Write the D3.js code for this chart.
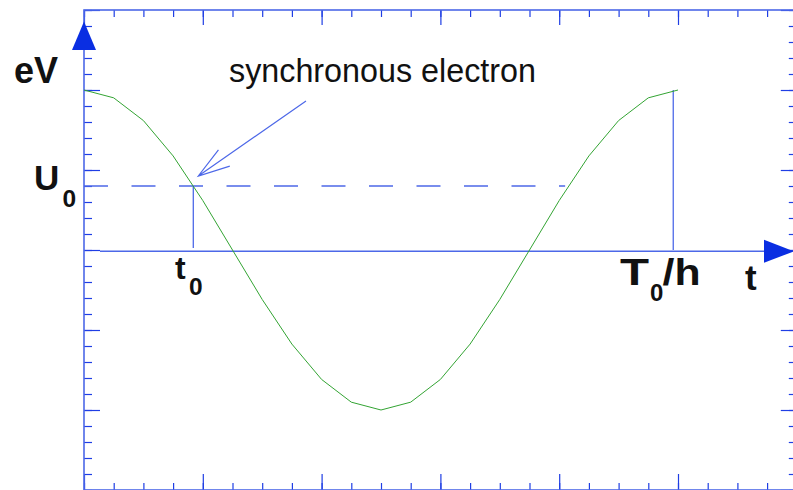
<!DOCTYPE html>
<html>
<head>
<meta charset="utf-8">
<script src="https://cdn.jsdelivr.net/npm/d3@7"></script>
<style>
  html, body { margin: 0; padding: 0; background: #fff; }
  svg { display: block; font-family: "Liberation Sans", Arial, Helvetica, sans-serif; }
</style>
</head>
<body>
<svg id="chart" width="793" height="490"></svg>
<script>
// RF voltage over one period T0/h (time in units of T0/h, voltage in units of the peak)
const timeSamples = [0, 0.05, 0.10, 0.15, 0.20, 0.25, 0.30, 0.35, 0.40, 0.45, 0.50,
                     0.55, 0.60, 0.65, 0.70, 0.75, 0.80, 0.85, 0.90, 0.95, 1.00];
const voltageSamples = [1, 0.951, 0.809, 0.588, 0.309, 0, -0.309, -0.588, -0.809, -0.951, -1,
                        -0.951, -0.809, -0.588, -0.309, 0, 0.309, 0.588, 0.809, 0.951, 1];

// Synchronous phase: energy gain U0 reached at time t0
const U0 = 0.4;
const t0 = 0.184;
const periodMark = 0.992;   // T0/h marker
const dashedEnd = 0.81;

// Axis extents and tick steps
const timeDomain = [0, 1.2];
const voltDomain = [-1.5, 1.5];
const timeMinorStep = 0.05, timeMajorStep = 0.2;
const voltMinorStep = 0.1, voltMajorStep = 0.5;

const svg = d3.select("#chart");
const x = d3.scaleLinear().domain(timeDomain).range([84, 796.8]);
const y = d3.scaleLinear().domain(voltDomain).range([490, 10]);

const frameColor = "#4d68e8";
const tickColor = "#1f3ee4";
const arrowColor = "#0a2ee2";

const steps = (d, s) => d3.range(Math.round((d[1] - d[0]) / s) + 1).map(i => +(d[0] + i * s).toFixed(4));
const tMinor = steps(timeDomain, timeMinorStep);
const tMajor = steps(timeDomain, timeMajorStep);
const vMinor = steps(voltDomain, voltMinorStep);
const vMajor = steps(voltDomain, voltMajorStep);

function tickAxis(axis, values, size, transform) {
  const g = svg.append("g").attr("transform", transform)
    .call(axis.tickValues(values).tickSize(size).tickFormat(""));
  g.select(".domain").remove();
  g.selectAll(".tick line").attr("stroke", tickColor).attr("stroke-width", 1.2);
}

// frame ticks on all four sides
tickAxis(d3.axisBottom(x), tMinor, 7, "translate(0,10)");
tickAxis(d3.axisBottom(x), tMajor, 15, "translate(0,10)");
tickAxis(d3.axisTop(x), tMinor, 7, "translate(0,490)");
tickAxis(d3.axisTop(x), tMajor, 16, "translate(0,490)");
tickAxis(d3.axisRight(y), vMinor, 8, "translate(84,0)");
tickAxis(d3.axisRight(y), vMajor, 16, "translate(84,0)");
tickAxis(d3.axisLeft(y), vMinor, 8, "translate(796.8,0)");
tickAxis(d3.axisLeft(y), vMajor, 16, "translate(796.8,0)");

// frame
svg.append("rect")
  .attr("x", x(timeDomain[0])).attr("y", y(voltDomain[1]))
  .attr("width", x(timeDomain[1]) - x(timeDomain[0]))
  .attr("height", y(voltDomain[0]) - y(voltDomain[1]))
  .attr("fill", "none").attr("stroke", frameColor).attr("stroke-width", 1.6);

// time axis through zero with arrow
const axisY = y(0) + 1.3;
svg.append("line")
  .attr("x1", x(0) + 16).attr("x2", 766).attr("y1", axisY).attr("y2", axisY)
  .attr("stroke", frameColor).attr("stroke-width", 1.4);
svg.append("path")
  .attr("d", `M764,${axisY - 11.5} L794,${axisY} L764,${axisY + 11.5} Z`)
  .attr("fill", arrowColor);

// voltage axis arrow
svg.append("path")
  .attr("d", `M${x(0) - 12},50 L${x(0)},21.5 L${x(0) + 12},50 Z`)
  .attr("fill", arrowColor);

// U0 level
svg.append("line")
  .attr("x1", x(0)).attr("x2", x(dashedEnd)).attr("y1", y(U0)).attr("y2", y(U0))
  .attr("stroke", frameColor).attr("stroke-width", 1.3)
  .attr("stroke-dasharray", "24,23.5");

// t0 and T0/h markers
svg.append("line")
  .attr("x1", x(t0)).attr("x2", x(t0)).attr("y1", y(U0)).attr("y2", y(0) - 2)
  .attr("stroke", frameColor).attr("stroke-width", 1.3);
svg.append("line")
  .attr("x1", x(periodMark)).attr("x2", x(periodMark)).attr("y1", y(1)).attr("y2", y(0))
  .attr("stroke", frameColor).attr("stroke-width", 1.3);

// RF voltage curve
const line = d3.line().x((d, i) => x(timeSamples[i])).y(d => y(d));
svg.append("path")
  .datum(voltageSamples)
  .attr("d", line)
  .attr("fill", "none").attr("stroke", "#33a433").attr("stroke-width", 1);

// annotation arrow pointing at the synchronous electron
const tip = [x(t0) + 5, y(U0) - 10];
const tail = [306, 101];
const ang = Math.atan2(tail[1] - tip[1], tail[0] - tip[0]);
const barb = 33, spread = 17.5 * Math.PI / 180;
svg.append("path")
  .attr("d",
    `M${tail[0]},${tail[1]} L${tip[0]},${tip[1]}` +
    ` M${tip[0] + barb * Math.cos(ang - spread)},${tip[1] + barb * Math.sin(ang - spread)} L${tip[0]},${tip[1]}` +
    ` L${tip[0] + barb * Math.cos(ang + spread)},${tip[1] + barb * Math.sin(ang + spread)}`)
  .attr("fill", "none").attr("stroke", frameColor).attr("stroke-width", 1.2);

svg.append("text")
  .attr("x", 229).attr("y", 81.5)
  .attr("font-size", 32.3).attr("fill", "#111")
  .text("synchronous electron");

// labels
const bold = (xp, yp, size) => svg.append("text")
  .attr("x", xp).attr("y", yp).attr("font-size", size)
  .attr("font-weight", "bold").attr("fill", "#111");

bold(14, 83.3, 36).text("eV");

const u = bold(34, 190, 35);
u.append("tspan").text("U");
u.append("tspan").attr("x", 62.5).attr("y", 206.7).attr("font-size", 24.5).text("0");

const tl = bold(175, 279, 32);
tl.append("tspan").text("t");
tl.append("tspan").attr("x", 189).attr("y", 295).attr("font-size", 24.5).text("0");

const th = bold(620, 285, 36);
th.append("tspan").attr("textLength", 29).attr("lengthAdjust", "spacingAndGlyphs").text("T");
th.append("tspan").attr("x", 650).attr("y", 300.7).attr("font-size", 24).text("0");
th.append("tspan").attr("x", 662.5).attr("y", 285)
  .attr("textLength", 38).attr("lengthAdjust", "spacingAndGlyphs").text("/h");

bold(745, 290, 35).text("t");
</script>
</body>
</html>
